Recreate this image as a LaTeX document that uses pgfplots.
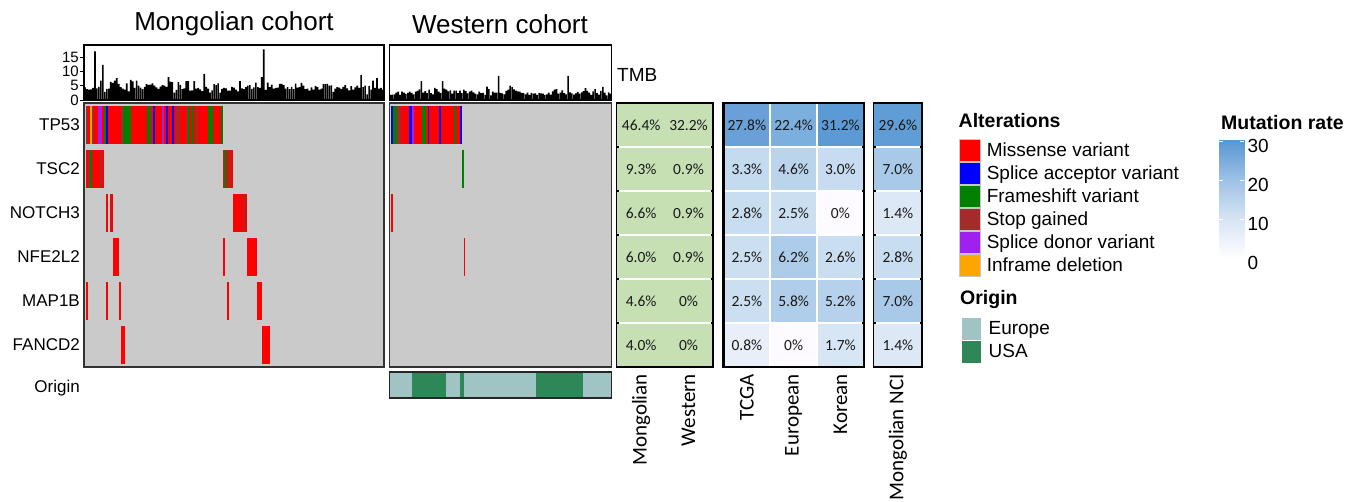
\documentclass[border=0pt]{standalone}
\usepackage{pgfplots}
\usepackage{pgfplotstable}
\pgfplotsset{compat=1.18}
\usepackage{fontspec}
\setmainfont{Liberation Sans}
\newfontfamily\calibri{Carlito}

\definecolor{cMis}{RGB}{255,0,0}
\definecolor{cAcc}{RGB}{0,0,255}
\definecolor{cFra}{RGB}{0,128,0}
\definecolor{cSto}{RGB}{165,42,42}
\definecolor{cDon}{RGB}{160,32,240}
\definecolor{cInf}{RGB}{255,165,0}
\definecolor{cEur}{RGB}{160,195,195}
\definecolor{cUSA}{RGB}{46,135,87}
\definecolor{oncoGray}{RGB}{202,202,202}
\definecolor{cellGreen}{RGB}{198,224,180}

\pgfdeclareplotmark{cellMo}{\pgfpathrectangle{\pgfpoint{-0.98pt}{-19.35pt}}{\pgfpoint{1.96pt}{38.7pt}}\pgfusepathqfill}
\pgfdeclareplotmark{cellWe}{\pgfpathrectangle{\pgfpoint{-0.948pt}{-19.35pt}}{\pgfpoint{1.896pt}{38.7pt}}\pgfusepathqfill}
\pgfdeclareplotmark{cellG}{\pgfpathrectangle{\pgfpoint{-23.7pt}{-20.75pt}}{\pgfpoint{47.4pt}{41.5pt}}\pgfusepathqfill}
\pgfdeclareplotmark{cellB}{\pgfpathrectangle{\pgfpoint{-22.2pt}{-20.75pt}}{\pgfpoint{44.4pt}{41.5pt}}\pgfusepathqfill}
\pgfdeclareplotmark{cellN}{\pgfpathrectangle{\pgfpoint{-23.4pt}{-20.75pt}}{\pgfpoint{46.8pt}{41.5pt}}\pgfusepathqfill}

\pgfplotsset{
  colormap={cellblue}{rgb255(0pt)=(253,251,255) rgb255(8pt)=(232,239,248) rgb255(14pt)=(220,232,245) rgb255(25pt)=(203,223,241) rgb255(33pt)=(196,218,239) rgb255(46pt)=(186,212,236) rgb255(58pt)=(176,206,234) rgb255(70pt)=(168,201,232) rgb255(224pt)=(122,175,222) rgb255(278pt)=(105,160,215) rgb255(296pt)=(96,156,213) rgb255(312pt)=(91,154,212)},
  colormap={legblue}{rgb255(0pt)=(255,255,255) rgb255(100pt)=(216,229,244) rgb255(200pt)=(160,195,230) rgb255(305pt)=(88,150,210)},
}

% TMB values
\pgfplotstableread[row sep=\\]{t\\4.4\\3.8\\3.6\\3.7\\4.2\\17.0\\4.1\\4.6\\6.8\\12.3\\2.8\\3.9\\4.0\\6.3\\6.0\\6.8\\7.6\\5.6\\4.5\\4.0\\3.6\\5.8\\3.0\\7.0\\6.5\\4.2\\6.8\\5.0\\4.3\\3.8\\4.6\\5.5\\5.3\\5.4\\5.8\\5.0\\4.4\\3.9\\4.7\\5.2\\5.0\\4.6\\8.0\\6.4\\6.2\\2.6\\3.5\\6.2\\5.3\\3.8\\4.1\\6.6\\6.6\\3.3\\3.4\\6.6\\4.0\\4.2\\3.7\\3.1\\9.1\\4.6\\4.0\\2.6\\3.4\\5.5\\5.2\\5.8\\2.6\\3.9\\4.2\\4.1\\3.3\\3.3\\4.6\\4.3\\3.6\\3.0\\6.6\\4.1\\3.8\\4.5\\5.0\\5.2\\3.9\\4.4\\6.1\\4.5\\4.2\\8.0\\17.7\\3.5\\6.1\\4.5\\5.4\\4.0\\4.2\\4.3\\5.6\\5.6\\5.2\\4.0\\4.5\\3.8\\4.6\\3.8\\5.7\\4.3\\4.6\\6.0\\5.0\\3.8\\4.0\\3.3\\4.4\\3.6\\4.9\\4.5\\3.6\\4.0\\5.5\\5.6\\5.6\\5.0\\5.1\\2.8\\4.0\\4.5\\4.3\\3.9\\4.6\\5.2\\4.1\\3.4\\4.8\\3.6\\4.4\\5.0\\4.2\\8.7\\4.5\\5.0\\2.0\\4.8\\3.6\\6.8\\4.2\\7.6\\4.0\\4.2\\3.6\\}\tmbMo
\pgfplotstableread[row sep=\\]{t\\1.8\\1.9\\2.0\\2.6\\2.9\\1.8\\2.9\\2.6\\2.1\\2.5\\2.9\\2.5\\2.0\\2.9\\3.2\\3.7\\6.6\\2.6\\3.1\\2.4\\3.6\\2.4\\2.0\\4.2\\3.8\\2.9\\2.5\\6.6\\4.0\\3.6\\3.0\\3.4\\2.2\\3.3\\3.3\\2.4\\3.3\\2.4\\3.6\\3.1\\2.3\\2.9\\3.3\\2.7\\2.2\\2.0\\2.9\\2.4\\2.5\\1.8\\4.7\\3.8\\1.6\\2.9\\2.6\\2.6\\8.4\\2.5\\2.3\\2.0\\3.2\\3.6\\5.0\\4.5\\3.7\\3.3\\3.0\\2.9\\2.5\\2.4\\2.0\\2.6\\1.8\\2.5\\2.2\\2.3\\1.8\\2.4\\2.3\\2.2\\1.8\\2.0\\2.6\\1.9\\3.0\\3.6\\3.8\\2.2\\2.6\\3.4\\2.4\\2.0\\8.4\\2.7\\2.3\\1.9\\2.3\\2.8\\2.2\\2.7\\3.1\\4.1\\3.2\\2.6\\1.8\\3.0\\3.8\\2.4\\1.9\\3.2\\4.6\\2.6\\1.6\\2.7\\2.2\\}\tmbWe

% oncoprint: sample, gene row (6=TP53 ... 1=FANCD2), alteration type
\pgfplotstableread[row sep=\\]{x y t\\1 6 S\\2 6 M\\3 6 I\\4 6 S\\5 6 M\\6 6 M\\7 6 D\\8 6 D\\9 6 M\\10 6 F\\11 6 A\\12 6 M\\13 6 M\\14 6 M\\15 6 M\\16 6 M\\17 6 M\\18 6 M\\19 6 S\\20 6 F\\21 6 F\\22 6 F\\23 6 F\\24 6 M\\25 6 M\\26 6 M\\27 6 M\\28 6 M\\29 6 M\\30 6 M\\31 6 M\\32 6 F\\33 6 F\\34 6 M\\35 6 A\\36 6 M\\37 6 M\\38 6 M\\39 6 M\\40 6 D\\41 6 M\\42 6 A\\43 6 M\\44 6 M\\45 6 A\\46 6 M\\47 6 S\\48 6 S\\49 6 M\\50 6 M\\51 6 M\\52 6 S\\53 6 F\\54 6 M\\55 6 F\\56 6 M\\57 6 S\\58 6 M\\59 6 M\\60 6 M\\61 6 M\\62 6 M\\63 6 F\\64 6 F\\65 6 F\\66 6 M\\67 6 M\\68 6 M\\69 6 M\\70 6 F\\1 5 M\\2 5 S\\3 5 F\\4 5 M\\5 5 M\\6 5 M\\7 5 M\\8 5 S\\9 5 M\\71 5 S\\72 5 F\\73 5 M\\74 5 S\\75 5 M\\11 4 M\\13 4 S\\14 4 M\\76 4 M\\77 4 M\\78 4 M\\79 4 M\\80 4 M\\81 4 S\\82 4 M\\15 3 M\\16 3 M\\17 3 M\\71 3 M\\83 3 M\\84 3 M\\85 3 M\\86 3 M\\87 3 M\\1 2 M\\11 2 M\\18 2 M\\73 2 M\\88 2 M\\89 2 M\\90 2 M\\19 1 M\\20 1 M\\91 1 M\\92 1 M\\93 1 M\\94 1 M\\}\oncoMo
\pgfplotstableread[row sep=\\]{x y t\\1 6 A\\2 6 F\\3 6 F\\4 6 S\\5 6 S\\6 6 M\\7 6 M\\8 6 M\\9 6 M\\10 6 A\\11 6 A\\12 6 D\\13 6 M\\14 6 M\\15 6 M\\16 6 M\\17 6 F\\18 6 F\\19 6 M\\20 6 A\\21 6 M\\22 6 M\\23 6 M\\24 6 M\\25 6 M\\26 6 A\\27 6 M\\28 6 M\\29 6 M\\30 6 M\\31 6 M\\32 6 M\\33 6 M\\34 6 F\\35 6 M\\36 6 M\\37 6 A\\38 5 F\\1 4 M\\39 3 M\\}\oncoWe

% mutation rates
\pgfplotstableread[row sep=\\]{x y v\\0 6 46.4\\0 5 9.3\\0 4 6.6\\0 3 6.0\\0 2 4.6\\0 1 4.0\\1 6 32.2\\1 5 0.9\\1 4 0.9\\1 3 0.9\\1 2 0\\1 1 0\\}\hmGreen
\pgfplotstableread[row sep=\\]{x y v\\0 6 27.8\\0 5 3.3\\0 4 2.8\\0 3 2.5\\0 2 2.5\\0 1 0.8\\1 6 22.4\\1 5 4.6\\1 4 2.5\\1 3 6.2\\1 2 5.8\\1 1 0\\2 6 31.2\\2 5 3.0\\2 4 0\\2 3 2.6\\2 2 5.2\\2 1 1.7\\}\hmBlue
\pgfplotstableread[row sep=\\]{x y v\\0 6 29.6\\0 5 7.0\\0 4 1.4\\0 3 2.8\\0 2 7.0\\0 1 1.4\\}\hmNCI

\pgfplotsset{
  onco/.style={scale only axis, anchor=north west, height=264pt, ymin=0.5, ymax=6.5,
    xtick=\empty, ytick=\empty, major tick length=0pt, axis on top,
    axis background/.style={fill=oncoGray}, axis line style={line width=1.5pt, black!80}},
  tmb/.style={scale only axis, anchor=north west, height=55pt, ymin=0, ymax=19.2,
    xtick=\empty, axis on top, axis line style={line width=1.3pt}},
  hm/.style={scale only axis, anchor=north west, height=264pt, ymin=0.5, ymax=6.5,
    ytick=\empty, major tick length=0pt, axis on top, axis line style={line width=2.8pt},
    xticklabel style={rotate=90, anchor=east, inner sep=0pt, font=\calibri\fontsize{21}{21}\selectfont},
    xticklabel shift=7pt},
  cellnum/.style={draw=none, mark=none, point meta=explicit symbolic,
    nodes near coords={\pgfplotspointmeta\%}, nodes near coords align={center},
    every node near coord/.append style={font=\calibri\fontsize{15.5}{16}\selectfont, text=black!90, inner sep=0pt}},
  altclasses/.style={scatter/classes={M={#1,cMis}, A={#1,cAcc}, F={#1,cFra}, S={#1,cSto}, D={#1,cDon}, I={#1,cInf}}},
}

\begin{document}
\begin{tikzpicture}
\path[use as bounding box] (0,0) rectangle (1350pt,-502pt);

\node[inner sep=0pt, font=\fontsize{26}{30}\selectfont] at (234pt,-24pt) {Mongolian cohort};
\node[inner sep=0pt, font=\fontsize{26}{30}\selectfont] at (500pt,-24pt) {Western cohort};

% TMB Mongolian
\begin{axis}[tmb, at={(84pt,-45pt)}, width=300pt, xmin=0.5, xmax=151.5,
  ytick={0,5,10,15}, ytick pos=left, tick align=outside, major tick length=4pt,
  tick style={black, line width=0.8pt},
  yticklabel style={font=\fontsize{15}{15}\selectfont, inner sep=1pt},
  /pgf/number format/assume math mode=true]
\addplot[ybar, bar width=0.84, fill=black, draw=none] table[x expr=\coordindex+1, y=t] {\tmbMo};
\end{axis}

% TMB Western
\begin{axis}[tmb, at={(389.5pt,-45pt)}, width=222pt, xmin=0.5, xmax=115.5, ytick=\empty]
\addplot[ybar, bar width=0.84, fill=black, draw=none] table[x expr=\coordindex+1, y=t] {\tmbWe};
\end{axis}
\node[anchor=west, inner sep=0pt, font=\fontsize{19}{19}\selectfont] at (617pt,-75pt) {TMB};

% Oncoprint Mongolian
\begin{axis}[onco, at={(84pt,-103pt)}, width=300pt, xmin=-0.52, xmax=152.52,
  ytick={1,2,3,4,5,6}, yticklabels={FANCD2,MAP1B,NFE2L2,NOTCH3,TSC2,TP53},
  yticklabel style={font=\fontsize{17}{17}\selectfont, inner sep=0pt, xshift=-4pt}]
\addplot[scatter, only marks, mark=cellMo, point meta=explicit symbolic, altclasses={mark=cellMo}]
  table[x=x, y=y, meta=t] {\oncoMo};
\end{axis}

% Oncoprint Western
\begin{axis}[onco, at={(389.5pt,-103pt)}, width=222pt, xmin=-0.55, xmax=116.55]
\addplot[scatter, only marks, mark=cellWe, point meta=explicit symbolic, altclasses={mark=cellWe}]
  table[x=x, y=y, meta=t] {\oncoWe};
\end{axis}

% Origin bar
\begin{axis}[scale only axis, anchor=north west, at={(389.5pt,-372pt)}, width=222pt, height=26pt,
  xmin=-0.55, xmax=116.55, ymin=0, ymax=1, xtick=\empty, ytick=\empty, axis on top,
  axis line style={line width=1.5pt, black!85}]
\addplot[fill=cEur, draw=none] coordinates {(-0.55,1) (11.5,1)} \closedcycle;
\addplot[fill=cUSA, draw=none] coordinates {(11.5,1) (29.5,1)} \closedcycle;
\addplot[fill=cEur, draw=none] coordinates {(29.5,1) (36.5,1)} \closedcycle;
\addplot[fill=cUSA, draw=none] coordinates {(36.5,1) (38.5,1)} \closedcycle;
\addplot[fill=cEur, draw=none] coordinates {(38.5,1) (76.5,1)} \closedcycle;
\addplot[fill=cUSA, draw=none] coordinates {(76.5,1) (101.5,1)} \closedcycle;
\addplot[fill=cEur, draw=none] coordinates {(101.5,1) (116.55,1)} \closedcycle;
\end{axis}
\node[anchor=east, inner sep=0pt, font=\fontsize{17}{17}\selectfont] at (80pt,-388pt) {Origin};

% Heatmap green
\begin{axis}[hm, at={(617.5pt,-103pt)}, width=94.7pt, xmin=-0.5, xmax=1.5,
  xtick={0,1}, xticklabels={Mongolian,Western}]
\addplot[only marks, mark=cellG, color=cellGreen, mark options={fill=cellGreen}] table[x=x, y=y] {\hmGreen};
\addplot[cellnum] table[x=x, y=y, meta=v] {\hmGreen};
\end{axis}

% Heatmap blue
\begin{axis}[hm, at={(723.5pt,-103pt)}, width=140.3pt, xmin=-0.5, xmax=2.5,
  xtick={0,1,2}, xticklabels={TCGA,European,Korean},
  colormap name=cellblue, point meta min=0, point meta max=31.2]
\addplot[scatter, only marks, mark=cellB, point meta=explicit] table[x=x, y=y, meta=v] {\hmBlue};
\addplot[cellnum] table[x=x, y=y, meta=v] {\hmBlue};
\end{axis}

% Heatmap Mongolian NCI
\begin{axis}[hm, at={(874.5pt,-103pt)}, width=46.7pt, xmin=-0.5, xmax=0.5,
  xtick={0}, xticklabels={Mongolian NCI},
  colormap name=cellblue, point meta min=0, point meta max=31.2]
\addplot[scatter, only marks, mark=cellN, point meta=explicit] table[x=x, y=y, meta=v] {\hmNCI};
\addplot[cellnum] table[x=x, y=y, meta=v] {\hmNCI};
\end{axis}

% Legend: Alterations
\node[anchor=west, inner sep=0pt, font=\bfseries\fontsize{19.5}{20}\selectfont] at (958.5pt,-121pt) {Alterations};
\begin{axis}[scale only axis, hide axis, anchor=north west, at={(959pt,-139pt)}, width=10pt, height=10pt,
  xmin=0, xmax=1, ymin=0, ymax=1,
  legend style={at={(0,1)}, anchor=north west, draw=none, fill=none, inner sep=0pt, outer sep=0pt,
    row sep=0pt, column sep=6pt, font=\fontsize{19}{22}\selectfont,
    nodes={inner sep=0pt, text height=16.6pt, text depth=5.6pt}},
  legend cell align=left,
  legend image code/.code={\filldraw[#1] (0pt,-11.1pt) rectangle (21pt,11.1pt);}]
\addlegendimage{fill=cMis, draw=gray!45, line width=0.8pt}
\addlegendentry{Missense variant}
\addlegendimage{fill=cAcc, draw=gray!45, line width=0.8pt}
\addlegendentry{Splice acceptor variant}
\addlegendimage{fill=cFra, draw=gray!45, line width=0.8pt}
\addlegendentry{Frameshift variant}
\addlegendimage{fill=cSto, draw=gray!45, line width=0.8pt}
\addlegendentry{Stop gained}
\addlegendimage{fill=cDon, draw=gray!45, line width=0.8pt}
\addlegendentry{Splice donor variant}
\addlegendimage{fill=cInf, draw=gray!45, line width=0.8pt}
\addlegendentry{Inframe deletion}
\end{axis}

% Legend: Origin
\node[anchor=west, inner sep=0pt, font=\bfseries\fontsize{19.5}{20}\selectfont] at (960pt,-300pt) {Origin};
\begin{axis}[scale only axis, hide axis, anchor=north west, at={(961pt,-317pt)}, width=10pt, height=10pt,
  xmin=0, xmax=1, ymin=0, ymax=1,
  legend style={at={(0,1)}, anchor=north west, draw=none, fill=none, inner sep=0pt, outer sep=0pt,
    row sep=0pt, column sep=7pt, font=\fontsize{19}{22}\selectfont,
    nodes={inner sep=0pt, text height=16.9pt, text depth=5.8pt}},
  legend cell align=left,
  legend image code/.code={\filldraw[#1] (0pt,-11.35pt) rectangle (20pt,11.35pt);}]
\addlegendimage{fill=cEur, draw=white, line width=0.6pt}
\addlegendentry{Europe}
\addlegendimage{fill=cUSA, draw=white, line width=0.6pt}
\addlegendentry{USA}
\end{axis}

% Legend: Mutation rate colour bar
\node[anchor=west, inner sep=0pt, font=\bfseries\fontsize{19.5}{20}\selectfont] at (1221pt,-123pt) {Mutation rate};
\begin{axis}[scale only axis, anchor=north west, at={(1219pt,-140pt)}, width=25pt, height=119pt,
  xmin=0, xmax=1, ymin=0, ymax=30.5, xtick=\empty, ytick={0,10,20,30},
  axis line style={draw=none}, tick align=inside, major tick length=4pt,
  tick style={white, line width=1pt}, ytick pos=both, yticklabel pos=right,
  yticklabel style={font=\fontsize{19}{19}\selectfont, yshift=-4pt},
  colormap name=legblue, point meta min=0, point meta max=30.5, axis on top,
  /pgf/number format/assume math mode=true]
\addplot[patch, shader=interp, point meta=y] coordinates {(0,0) (1,0) (1,30.5) (0,0) (1,30.5) (0,30.5)};
\end{axis}

\end{tikzpicture}
\end{document}
